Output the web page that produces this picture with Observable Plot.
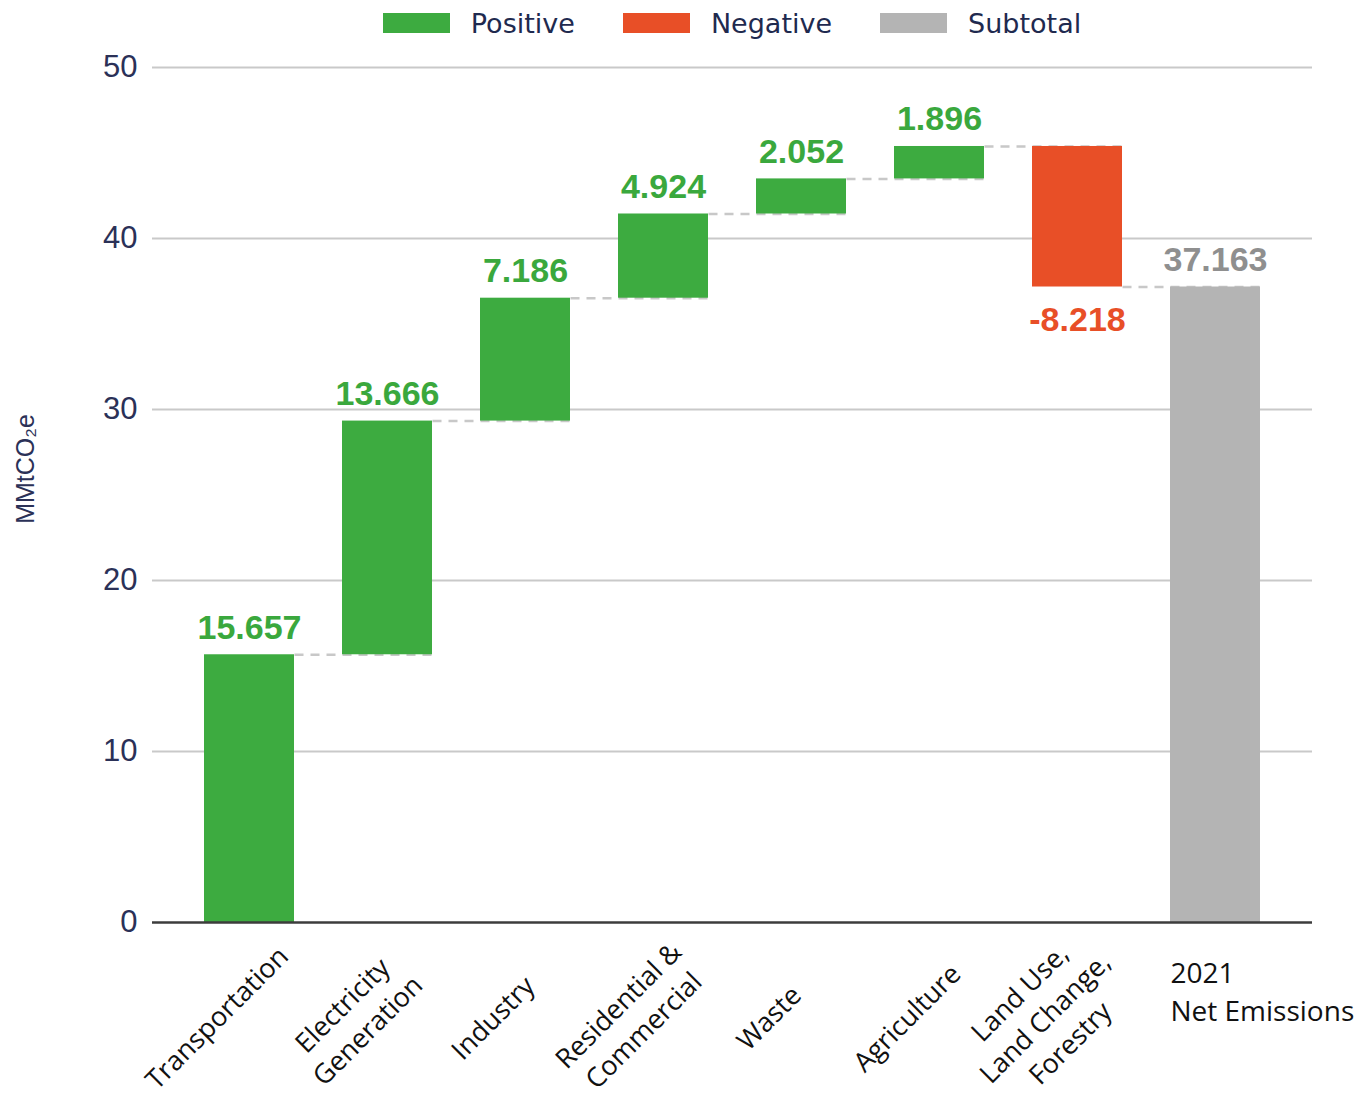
<!DOCTYPE html>
<html>
<head>
<meta charset="utf-8">
<script src="https://cdn.jsdelivr.net/npm/d3@7"></script>
<script src="https://cdn.jsdelivr.net/npm/@observablehq/plot@0.6"></script>
<style>
  body { margin: 0; background: #fff; }
  #legend { box-sizing: border-box; width: 1357px; height: 46px; padding-left: 152px; padding-right: 45px;
    display: flex; justify-content: center; align-items: center; gap: 48px;
    font-family: "DejaVu Sans", sans-serif; font-size: 27px; color: #1f2a4f; }
  .item { display: flex; align-items: center; }
  .sw { width: 67px; height: 20px; margin-right: 21px; }
</style>
</head>
<body>
<div id="legend"></div>
<div id="chart"></div>
<script>
const categories = ["Transportation", "Electricity\nGeneration", "Industry", "Residential &\nCommercial",
  "Waste", "Agriculture", "Land Use,\nLand Change,\nForestry", "2021\nNet Emissions"];
const changes = [15.657, 13.666, 7.186, 4.924, 2.052, 1.896, -8.218];
const netTotal = 37.163;
const legendKeys = ["Positive", "Negative", "Subtotal"];
const legendColors = ["#3dab40", "#e84f27", "#b4b4b4"];
const labelColors = ["#3aa83d", "#e84f27", "#8f8f8f"];
const yTicks = [0, 10, 20, 30, 40, 50];
const yLabel = "MMtCO₂e";

// build waterfall rows
let run = 0;
const rows = changes.map((v, i) => {
  const start = run; run += v;
  return {cat: categories[i], start, end: run, value: v, type: v >= 0 ? "Positive" : "Negative"};
});
rows.push({cat: categories[categories.length - 1], start: 0, end: netTotal, value: netTotal, type: "Subtotal"});
const connectors = rows.slice(0, -1).map((r, i) => ({from: r.cat, to: rows[i + 1].cat, level: r.end}));
const labelColor = t => labelColors[legendKeys.indexOf(t)];
const fmt = v => v.toFixed(3);

// legend
const lg = document.getElementById("legend");
legendKeys.forEach((k, i) => {
  const it = document.createElement("div"); it.className = "item";
  const sw = document.createElement("div"); sw.className = "sw"; sw.style.background = legendColors[i];
  const tx = document.createElement("span"); tx.textContent = k;
  it.append(sw, tx); lg.append(it);
});

const chart = Plot.plot({
  width: 1357, height: 1052,
  marginLeft: 152, marginRight: 45, marginTop: 21, marginBottom: 176,
  x: {domain: categories, padding: 0.35, axis: null},
  y: {domain: [0, 50], axis: null},
  color: {domain: legendKeys, range: legendColors},
  style: {fontFamily: "Liberation Sans, Arial, sans-serif", background: "#fff"},
  marks: [
    Plot.gridY(yTicks.filter(t => t > 0), {stroke: "#c9c9c9", strokeOpacity: 1, strokeWidth: 2}),
    Plot.axisY({ticks: yTicks, tickSize: 0, tickPadding: 15, fontSize: 31, color: "#2b3157", label: null}),
    Plot.text([yLabel], {frameAnchor: "left", textAnchor: "middle", rotate: -90, dx: -127, dy: -26, fontSize: 25,
      fill: "#2b3157", fontFamily: "Liberation Sans, Arial, sans-serif"}),
    Plot.link(connectors, {x1: "from", x2: "to", y1: "level", y2: "level", dx: 45,
      stroke: "#c8c8c8", strokeWidth: 2.5, strokeDasharray: "9,7"}),
    Plot.barY(rows, {x: "cat", y1: "start", y2: "end", fill: "type"}),
    Plot.ruleY([0], {stroke: "#3c3c3c", strokeWidth: 2.5}),
    Plot.text(rows.filter(r => r.type !== "Negative"), {x: "cat", y: "end", text: d => fmt(d.value),
      lineAnchor: "bottom", dy: -16, fontSize: 34, fontWeight: "bold", fill: d => labelColor(d.type)}),
    Plot.text(rows.filter(r => r.type === "Negative"), {x: "cat", y: "end", text: d => fmt(d.value),
      lineAnchor: "top", dy: 20, fontSize: 34, fontWeight: "bold", fill: d => labelColor(d.type)}),
    Plot.text(categories.slice(0, -1), {x: d => d, text: d => d, frameAnchor: "bottom", rotate: -45,
      textAnchor: "middle", lineAnchor: "middle", dx: -34, dy: 94, fontSize: 27, lineHeight: 1.32,
      fill: "#111", fontFamily: "Open Sans, sans-serif"}),
    Plot.text(categories.slice(-1), {x: d => d, text: d => d, frameAnchor: "bottom",
      textAnchor: "start", lineAnchor: "top", dx: -45, dy: 33, fontSize: 28, lineHeight: 1.36,
      fill: "#111", fontFamily: "Open Sans, sans-serif"})
  ]
});
document.getElementById("chart").append(chart);
</script>
</body>
</html>
